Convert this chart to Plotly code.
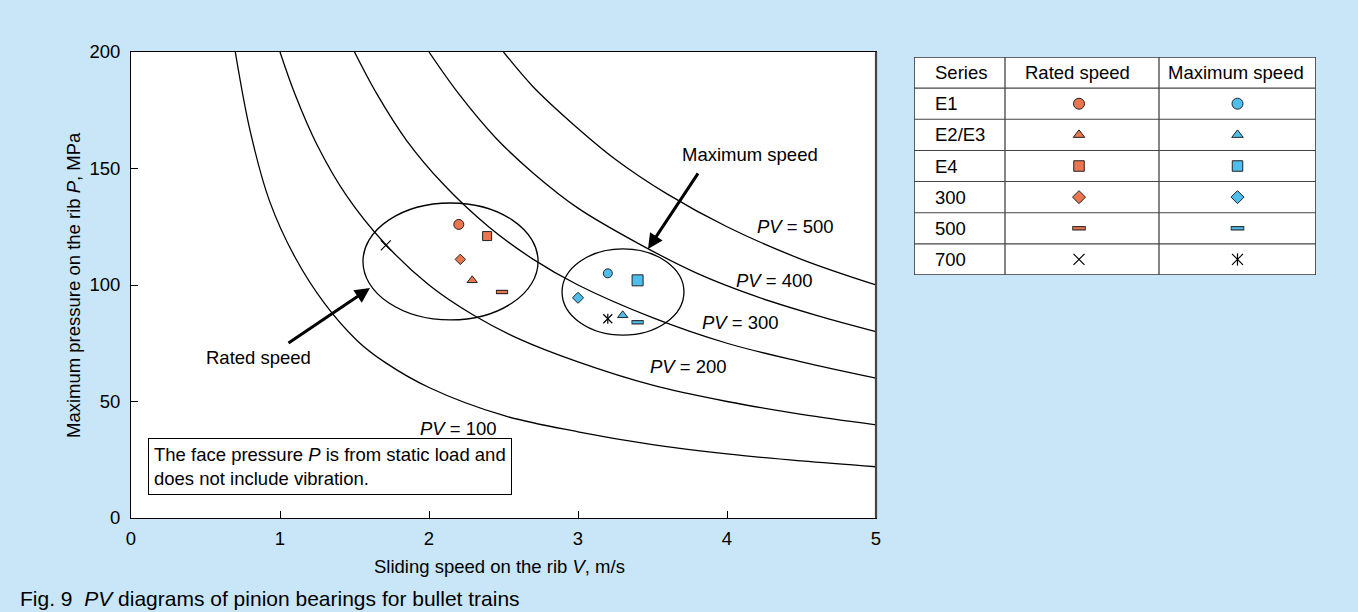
import plotly.graph_objects as go

# ---------------- data ----------------
series = ["E1", "E2/E3", "E4", "300", "500", "700"]
rated_v = [2.20, 2.29, 2.39, 2.21, 2.49, 1.71]
rated_p = [126.0, 102.0, 121.0, 111.0, 97.0, 117.0]
max_v = [3.20, 3.30, 3.40, 3.00, 3.40, 3.20]
max_p = [105.0, 87.0, 102.0, 94.5, 84.0, 85.5]

pv_levels = [100, 200, 300, 400, 500]
pv100_v = [0.70, 0.80, 0.93, 1.10, 1.30, 1.52, 1.70, 2.00, 2.50, 3.00, 3.50, 4.00, 4.50, 5.00]
pv100_p = [200, 166, 136, 112, 92, 76, 67, 56, 44, 37, 31.5, 27.5, 24.5, 22]
pv200_v = [1.00, 1.10, 1.25, 1.45, 1.70, 2.00, 2.30, 2.60, 3.00, 3.50, 4.00, 4.50, 5.00]
pv200_p = [200, 182, 160, 138, 118, 100, 87, 77, 67, 57, 50, 44.5, 40]
pv300_v = [1.50, 1.65, 1.85, 2.10, 2.40, 2.70, 3.00, 3.50, 4.00, 4.50, 5.00]
pv300_p = [200, 182, 162, 143, 125, 111, 100, 86, 75, 67, 60]
pv400_v = [2.00, 2.20, 2.45, 2.70, 3.00, 3.40, 3.80, 4.20, 4.60, 5.00]
pv400_p = [200, 182, 163, 148, 133, 118, 105, 95, 87, 80]
pv500_v = [2.50, 2.70, 2.95, 3.25, 3.60, 4.00, 4.50, 5.00]
pv500_p = [200, 185, 170, 154, 139, 125, 111, 100]
pv_label_v = [2.20, 3.74, 4.09, 4.32, 4.46]
pv_label_p = [38.5, 65, 84, 102, 125]

rated_ellipse = [1.557, 2.732, 85.0, 135.2]   # x0, x1, y0, y1
max_ellipse = [2.893, 3.711, 78.5, 115.5]

x_ticks = [0, 1, 2, 3, 4, 5]
y_ticks = [0, 50, 100, 150, 200]

table_header = ["Series", "Rated speed", "Maximum speed"]

# ---------------- style ----------------
FONT = "Liberation Sans, Arial, Helvetica, sans-serif"
FS = 18.5
ORANGE = "#EA7650"
BLUE = "#4FBEEC"
EDGE = "#222222"
BG = "#C8E6F8"

W, H = 1358, 612
ML, MR, MT, MB = 131, 30, 52, 94
PW, PH = W - ML - MR, H - MT - MB


def px_x(p):
    return (p - ML) / PW


def px_y(p):
    return (H - MB - p) / PH


fig = go.Figure()

# PV curves
for vv, pp in [(pv100_v, pv100_p), (pv200_v, pv200_p), (pv300_v, pv300_p),
               (pv400_v, pv400_p), (pv500_v, pv500_p)]:
    fig.add_trace(go.Scatter(x=vv, y=pp, mode="lines",
                             line=dict(color="black", width=1.3, shape="spline", smoothing=1.0),
                             hoverinfo="skip", showlegend=False))

sym_main = ["circle", "triangle-up", "square", "diamond", "dash", "cross"]
size_rated = [10, 9, 9, 8, 7.5, 10]
size_max = [9, 9, 11, 8.5, 7.5, 9]


def add_marker(xv, yv, kind, color, size, xaxis="x", yaxis="y", star=False):
    common = dict(mode="markers", xaxis=xaxis, yaxis=yaxis, hoverinfo="skip",
                  showlegend=False, cliponaxis=False)
    if kind == "dash":
        fig.add_trace(go.Scatter(x=[xv], y=[yv], **common,
                                 marker=dict(symbol="line-ew-open", size=size + 1.2, color=EDGE,
                                             line=dict(width=4.4, color=EDGE))))
        fig.add_trace(go.Scatter(x=[xv], y=[yv], **common,
                                 marker=dict(symbol="line-ew-open", size=size, color=color,
                                             line=dict(width=2.2, color=color))))
    elif kind == "cross":
        fig.add_trace(go.Scatter(x=[xv], y=[yv], **common,
                                 marker=dict(symbol="x-thin-open", size=size, color="black",
                                             line=dict(width=1.2, color="black"))))
        if star:
            fig.add_trace(go.Scatter(x=[xv], y=[yv], **common,
                                     marker=dict(symbol="line-ns-open", size=size * 0.8, color="black",
                                                 line=dict(width=1.2, color="black"))))
    else:
        fig.add_trace(go.Scatter(x=[xv], y=[yv], **common,
                                 marker=dict(symbol=kind, size=size, color=color,
                                             line=dict(width=1, color=EDGE))))


for i in range(len(series)):
    add_marker(rated_v[i], rated_p[i], sym_main[i], ORANGE, size_rated[i])
    add_marker(max_v[i], max_p[i], sym_main[i], BLUE, size_max[i], star=True)

# ---------------- legend table (own axes) ----------------
T_L, T_R, T_T, T_B = 914, 1316, 57, 275
col_edges = [0, 91, 245, 402]
n_rows = len(series) + 1
row_h = (T_B - T_T) / n_rows
col2 = (col_edges[1] + col_edges[2]) / 2
col3 = (col_edges[2] + col_edges[3]) / 2
size_tab = [11, 10, 10.5, 10, 8.5, 11]
for i in range(len(series)):
    yc = (i + 1.5) * row_h
    add_marker(col2 - 3, yc, sym_main[i], ORANGE, size_tab[i], "x2", "y2")
    add_marker(col3, yc, sym_main[i], BLUE, size_tab[i], "x2", "y2", star=True)

shapes = []
shapes.append(dict(type="rect", xref="x2", yref="y2", x0=0, x1=col_edges[-1], y0=0, y1=T_B - T_T,
                   fillcolor="white", line=dict(color="#333333", width=1.6), layer="below"))
for ce in col_edges[1:-1]:
    shapes.append(dict(type="line", xref="x2", yref="y2", x0=ce, x1=ce, y0=0, y1=T_B - T_T,
                       line=dict(color="#444444", width=1.3)))
for k in range(1, n_rows):
    shapes.append(dict(type="line", xref="x2", yref="y2", x0=0, x1=col_edges[-1],
                       y0=k * row_h, y1=k * row_h, line=dict(color="#444444", width=1.1)))

for e in (rated_ellipse, max_ellipse):
    shapes.append(dict(type="circle", xref="x", yref="y", x0=e[0], x1=e[1], y0=e[2], y1=e[3],
                       line=dict(color="black", width=1.3)))
shapes.append(dict(type="line", xref="paper", yref="paper", x0=px_x(876), x1=px_x(876), y0=0, y1=1,
                   line=dict(color="#444444", width=2.2)))


def note(**kw):
    base = dict(showarrow=False, xanchor="center", yanchor="middle", font=dict(size=FS))
    base.update(kw)
    return base


annotations = []
for lvl, lv, lp in zip(pv_levels, pv_label_v, pv_label_p):
    annotations.append(note(x=lv, y=lp, xref="x", yref="y", text=f"<i>PV</i> = {lvl}"))

annotations.append(note(x=0.856, y=69.1, xref="x", yref="y", text="Rated speed"))
annotations.append(note(x=4.154, y=155.8, xref="x", yref="y", text="Maximum speed"))
annotations.append(dict(x=1.604, y=98.7, xref="x", yref="y", text="", showarrow=True,
                        ax=-83, ay=56, arrowhead=2, arrowwidth=3, arrowsize=1, arrowcolor="black",
                        standoff=0))
annotations.append(dict(x=3.47, y=115.5, xref="x", yref="y", text="", showarrow=True,
                        ax=51, ay=-77, arrowhead=2, arrowwidth=3, arrowsize=1, arrowcolor="black",
                        standoff=0))
annotations.append(note(x=px_x(148), y=px_y(438), xref="paper", yref="paper", xanchor="left",
                        yanchor="top", align="left",
                        text="The face pressure <i>P</i> is from static load and<br>does not include vibration.",
                        bgcolor="white", bordercolor="black", borderwidth=1, borderpad=5))
annotations.append(note(x=px_x(499), y=px_y(566), xref="paper", yref="paper",
                        text="Sliding speed on the rib <i>V</i>, m/s"))
annotations.append(note(x=px_x(73), y=px_y(285), xref="paper", yref="paper", textangle=-90,
                        text="Maximum pressure on the rib <i>P</i>, MPa"))
annotations.append(note(x=px_x(18), y=px_y(598), xref="paper", yref="paper", xanchor="left",
                        text="Fig. 9&nbsp; <i>PV</i> diagrams of pinion bearings for bullet trains",
                        font=dict(size=21)))
annotations.append(note(x=19, y=0.5 * row_h, xref="x2", yref="y2", xanchor="left",
                        text=table_header[0]))
annotations.append(note(x=col2 - 5, y=0.5 * row_h, xref="x2", yref="y2", text=table_header[1]))
annotations.append(note(x=col3 - 2, y=0.5 * row_h, xref="x2", yref="y2", text=table_header[2]))
for i, s in enumerate(series):
    annotations.append(note(x=19, y=(i + 1.5) * row_h, xref="x2", yref="y2", xanchor="left", text=s))

fig.update_layout(
    width=W, height=H,
    margin=dict(l=ML, r=MR, t=MT, b=MB, autoexpand=False),
    paper_bgcolor=BG, plot_bgcolor="white",
    font=dict(family=FONT, size=FS, color="black"),
    showlegend=False,
    xaxis=dict(domain=[0, px_x(876)], range=[0, 5], tickvals=x_ticks, ticks="inside", ticklen=7,
               tickcolor="black", showline=True, linecolor="black", linewidth=1, mirror=True,
               showgrid=False, zeroline=False, ticklabelstandoff=4, tickfont=dict(size=FS),
               fixedrange=True),
    yaxis=dict(domain=[0, 1], range=[0, 200], tickvals=y_ticks, ticks="inside", ticklen=7,
               tickcolor="black", showline=True, linecolor="black", linewidth=1, mirror=True,
               showgrid=False, zeroline=False, ticklabelstandoff=6, tickfont=dict(size=FS),
               fixedrange=True),
    xaxis2=dict(domain=[px_x(T_L), px_x(T_R)], range=[0, col_edges[-1]], anchor="y2",
                visible=False, fixedrange=True),
    yaxis2=dict(domain=[px_y(T_B), px_y(T_T)], range=[T_B - T_T, 0], anchor="x2",
                visible=False, fixedrange=True),
    shapes=shapes, annotations=annotations,
)

fig.write_html("out.html", config={"displayModeBar": False},
               post_script="document.body.style.margin='0px';"
                           "document.body.style.background='" + BG + "';")
